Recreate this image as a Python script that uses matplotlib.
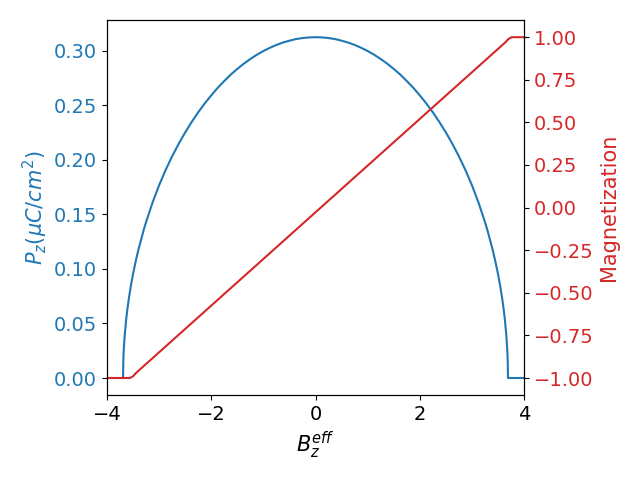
import numpy as np
import matplotlib
matplotlib.use("Agg")
import matplotlib.pyplot as plt

plt.rcParams['font.size'] = 14

# polarization (positive half, curve is symmetric)
b_half = [0.0, 0.125, 0.25, 0.375, 0.5, 0.625, 0.75, 0.875, 1.0, 1.125,
          1.25, 1.375, 1.5, 1.625, 1.75, 1.875, 2.0, 2.125, 2.25, 2.375,
          2.5, 2.625, 2.75, 2.875, 3.0, 3.125, 3.25, 3.3, 3.4, 3.45, 3.5,
          3.54, 3.58, 3.61, 3.63, 3.66, 3.675, 3.68, 3.685, 3.69, 4.0]
p_half = [0.3125, 0.3123, 0.3117, 0.3108, 0.3093, 0.3076, 0.3054, 0.3028,
          0.2998, 0.2964, 0.2925, 0.2882, 0.2834, 0.2782, 0.2723, 0.2661,
          0.2591, 0.2517, 0.2436, 0.2347, 0.2251, 0.2146, 0.2032, 0.1906,
          0.1766, 0.1608, 0.1428, 0.1348, 0.1168, 0.1065, 0.0950, 0.0846,
          0.0725, 0.0619, 0.0537, 0.0380, 0.0269, 0.0220, 0.0155, 0.0, 0.0]

# magnetization
b_mag = [-4.0, -3.56, -3.50, -3.44, 3.64, 3.70, 3.76, 4.0]
mag = [-1.0, -1.0, -0.99, -0.97, 0.97, 0.99, 1.0, 1.0]

b_pol = [-b for b in b_half[::-1]] + b_half[1:]
pol = p_half[::-1] + p_half[1:]

fig, ax1 = plt.subplots(figsize=(6.4, 4.8), dpi=100)

color = 'tab:blue'
ax1.set_xlabel(r'$B_z^{eff}$', fontsize=15)
ax1.set_ylabel(r'$P_z(\mu C/cm^2)$', color=color, fontsize=15, labelpad=2.5)
ax1.plot(b_pol, pol, color=color)
ax1.tick_params(axis='y', labelcolor=color)
ax1.set_xlim(-4, 4)

ax2 = ax1.twinx()
color = 'tab:red'
ax2.set_ylabel('Magnetization', color=color, fontsize=15)
ax2.plot(b_mag, mag, color=color)
ax2.tick_params(axis='y', labelcolor=color)

fig.subplots_adjust(left=0.167, right=0.819, top=0.958, bottom=0.177)
fig.savefig('out.png')
